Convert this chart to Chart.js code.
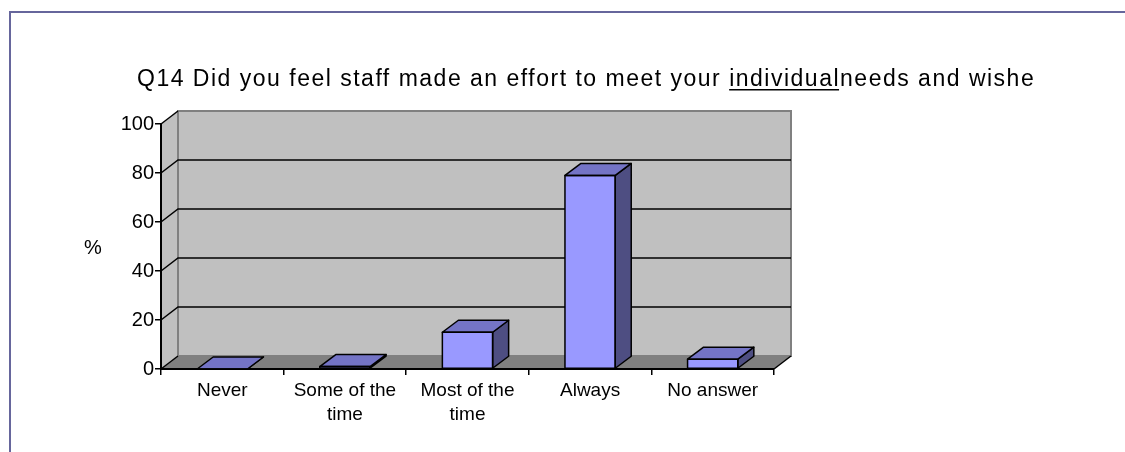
<!DOCTYPE html>
<html>
<head>
<meta charset="utf-8">
<script src="https://cdn.jsdelivr.net/npm/chart.js@4"></script>
<style>
  html, body { margin: 0; padding: 0; background: #fff; }
  #wrap { width: 1125px; height: 452px; }
</style>
</head>
<body>
<div id="wrap"><canvas id="chart" width="1125" height="452"></canvas></div>
<script>
'use strict';

/* ── Data ───────────────────────────────────────────────────────── */
const categories = [['Never'], ['Some of the', 'time'], ['Most of the', 'time'], ['Always'], ['No answer']];
const percentValues = [0, 1, 15, 79, 4];
const yTickValues = [0, 20, 40, 60, 80, 100];
const titleParts = ['Q14 Did you feel staff made an effort to meet your ', 'individual', 'needs and wishes'];
const yAxisLabel = '%';

/* ── Style ──────────────────────────────────────────────────────── */
const FONT = '"Liberation Sans", Arial, sans-serif';
const WALL_DX = 17, WALL_DY = -13;   // depth of the back wall
const BAR_DX = 16, BAR_DY = -12;     // depth of each bar
const FRAME = '#66669c';

function poly(ctx, pts, fill, stroke, lw) {
    ctx.beginPath();
    ctx.moveTo(pts[0][0], pts[0][1]);
    for (let i = 1; i < pts.length; i++) ctx.lineTo(pts[i][0], pts[i][1]);
    ctx.closePath();
    if (fill) { ctx.fillStyle = fill; ctx.fill(); }
    if (stroke) { ctx.strokeStyle = stroke; ctx.lineWidth = lw || 1; ctx.stroke(); }
}

/* ── Background: frame, title, 3D walls, gridlines ──────────────── */
const backdrop = {
    id: 'backdrop',
    beforeDraw(chart) {
        const ctx = chart.ctx;
        const { left, right } = chart.chartArea;
        const y = chart.scales.y;
        const y0 = y.getPixelForValue(0);
        const yTop = y.getPixelForValue(100);

        ctx.save();
        ctx.fillStyle = '#fff';
        ctx.fillRect(0, 0, chart.width, chart.height);

        // outer frame (runs off right and bottom)
        ctx.strokeStyle = FRAME;
        ctx.lineWidth = 2;
        ctx.beginPath();
        ctx.moveTo(10, chart.height + 2);
        ctx.lineTo(10, 12);
        ctx.lineTo(chart.width + 2, 12);
        ctx.stroke();

        // title, clipped on the right like the original
        ctx.save();
        ctx.beginPath();
        ctx.rect(0, 0, 1033, chart.height);
        ctx.clip();
        ctx.font = '23px ' + FONT;
        ctx.letterSpacing = '1.5px';
        ctx.fillStyle = '#000';
        ctx.textBaseline = 'alphabetic';
        let tx = 137;
        const ty = 86;
        titleParts.forEach((part, i) => {
            ctx.fillText(part, tx, ty);
            const w = ctx.measureText(part).width;
            if (i === 1) {
                ctx.fillRect(tx, ty + 3, w - 1, 1.5);
            }
            tx += w;
        });
        ctx.restore();

        // y axis caption
        ctx.font = '20px ' + FONT;
        ctx.textAlign = 'center';
        ctx.textBaseline = 'middle';
        ctx.fillStyle = '#000';
        ctx.fillText(yAxisLabel, 93, 248);

        // back wall
        poly(ctx, [[left + WALL_DX, yTop + WALL_DY], [right + WALL_DX, yTop + WALL_DY],
                   [right + WALL_DX, y0 + WALL_DY], [left + WALL_DX, y0 + WALL_DY]], '#c0c0c0');
        // side wall
        poly(ctx, [[left, yTop], [left + WALL_DX, yTop + WALL_DY],
                   [left + WALL_DX, y0 + WALL_DY], [left, y0]], '#c0c0c0');
        // floor
        poly(ctx, [[left, y0], [right, y0], [right + WALL_DX, y0 + WALL_DY], [left + WALL_DX, y0 + WALL_DY]], '#808080');

        // wall edges
        ctx.strokeStyle = '#808080';
        ctx.lineWidth = 2;
        ctx.strokeRect(left + WALL_DX, yTop + WALL_DY, right - left, y0 - yTop);

        // gridlines on side and back wall
        ctx.strokeStyle = '#000';
        ctx.lineWidth = 1.5;
        yTickValues.forEach(v => {
            const py = y.getPixelForValue(v);
            ctx.beginPath();
            ctx.moveTo(left, py);
            ctx.lineTo(left + WALL_DX, py + WALL_DY);
            if (v > 0 && v < 100) ctx.lineTo(right + WALL_DX, py + WALL_DY);
            ctx.stroke();
        });
        // right edge of the floor
        ctx.beginPath();
        ctx.moveTo(right, y0);
        ctx.lineTo(right + WALL_DX, y0 + WALL_DY);
        ctx.stroke();
        ctx.restore();
    }
};

/* ── Bar tops and sides ─────────────────────────────────────────── */
const bars3d = {
    id: 'bars3d',
    afterDatasetsDraw(chart) {
        const ctx = chart.ctx;
        const meta = chart.getDatasetMeta(0);
        ctx.save();
        ctx.lineJoin = 'round';
        meta.data.forEach(bar => {
            const { x, y, base, width } = bar.getProps(['x', 'y', 'base', 'width'], true);
            const x1 = x - width / 2, x2 = x + width / 2;
            // side
            poly(ctx, [[x2, y], [x2 + BAR_DX, y + BAR_DY], [x2 + BAR_DX, base + BAR_DY], [x2, base]],
                '#4e4e82', '#000', 1.5);
            // top
            poly(ctx, [[x1, y], [x2, y], [x2 + BAR_DX, y + BAR_DY], [x1 + BAR_DX, y + BAR_DY]],
                '#7474c6', '#000', 1.5);
            // front outline
            ctx.strokeStyle = '#000';
            ctx.lineWidth = 1.5;
            ctx.strokeRect(x1, y, width, base - y);
        });
        ctx.restore();
    }
};

/* ── Chart ──────────────────────────────────────────────────────── */
new Chart(document.getElementById('chart'), {
    type: 'bar',
    data: {
        labels: categories,
        datasets: [{
            data: percentValues,
            backgroundColor: '#9999ff',
            borderColor: '#000',
            borderWidth: 0,
            categoryPercentage: 1,
            barPercentage: 0.41
        }]
    },
    options: {
        responsive: false,
        animation: false,
        layout: { padding: { left: 0, right: 351, top: 124, bottom: 0 } },
        plugins: {
            legend: { display: false },
            tooltip: { enabled: false }
        },
        scales: {
            x: {
                afterFit: s => { s.height = 83; },
                grid: { offset: true, drawOnChartArea: false, tickLength: 6, color: '#000', lineWidth: 1.5 },
                border: { color: '#000', width: 2 },
                ticks: {
                    color: '#000',
                    padding: 4,
                    maxRotation: 0,
                    autoSkip: false,
                    font: { family: FONT, size: 19, lineHeight: 1.25 }
                }
            },
            y: {
                min: 0,
                max: 100,
                afterFit: s => { s.width = 161; },
                afterBuildTicks: s => { s.ticks = yTickValues.map(v => ({ value: v })); },
                grid: { drawOnChartArea: false, tickLength: 6, color: '#000', lineWidth: 1.5 },
                border: { color: '#000', width: 2 },
                ticks: {
                    color: '#000',
                    padding: 1,
                    font: { family: FONT, size: 20 }
                }
            }
        }
    },
    plugins: [backdrop, bars3d]
});
</script>
</body>
</html>
